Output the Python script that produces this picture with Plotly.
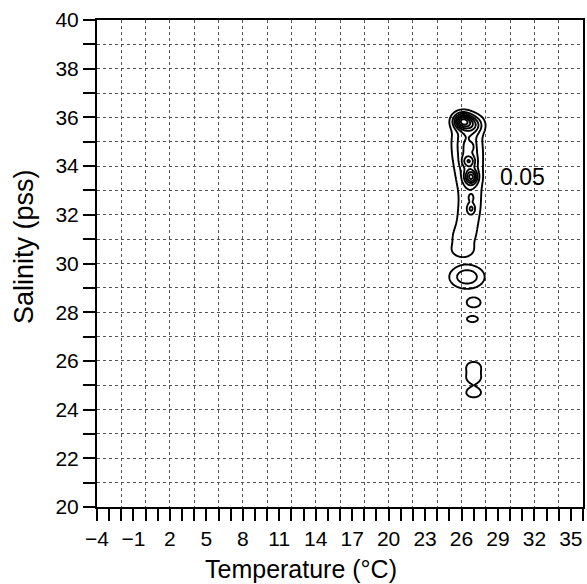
import numpy as np
import plotly.graph_objects as go

# ---- data: density components (T, S, amplitude, spreads) ----
comp_T   = [26.1, 27.0,
            26.4, 26.5, 26.6, 26.7, 26.7, 26.5, 26.1, 26.1,
            26.8, 26.6, 26.8, 26.8, 26.8,
            26.45, 27.0, 26.9, 27.0, 27.0, 27.0]
comp_S   = [35.85, 35.7,
            35.2, 34.5, 33.8, 33.1, 32.4, 31.7, 31.0, 30.5,
            34.8, 34.2, 33.55, 32.7, 32.25,
            29.45, 28.4, 27.72, 25.75, 25.3, 24.7]
comp_amp = [0.09, 0.04,
            0.028, 0.028, 0.024, 0.013, 0.012, 0.012, 0.013, 0.012,
            0.015, 0.03, 0.06, 0.012, 0.025,
            0.038, 0.02, 0.016, 0.017, 0.017, 0.018]
comp_sT  = [0.5, 0.55,
            0.75, 0.75, 0.7, 0.75, 0.8, 0.8, 0.9, 0.75,
            0.15, 0.35, 0.35, 0.15, 0.22,
            0.89, 0.48, 0.46, 0.55, 0.55, 0.55]
comp_sS  = [0.22, 0.25,
            0.45, 0.45, 0.45, 0.45, 0.45, 0.45, 0.4, 0.22,
            0.1, 0.15, 0.2, 0.1, 0.15,
            0.3, 0.17, 0.13, 0.2, 0.2, 0.18]

contour_start, contour_end, contour_step = 0.01, 0.13, 0.015
label_text = "0.05"
label_T, label_S = 29.0, 33.55

x_range = [-4, 36]
y_range = [20, 40]

# ---- density grid ----
T_grid = np.arange(23.0, 31.0, 0.04)
S_grid = np.arange(23.0, 37.5, 0.04)
TT, SS = np.meshgrid(T_grid, S_grid)
Z = np.zeros_like(TT)
for t, s, a, st, ss in zip(comp_T, comp_S, comp_amp, comp_sT, comp_sS):
    Z += a * np.exp(-((TT - t) ** 2) / (2 * st ** 2) - ((SS - s) ** 2) / (2 * ss ** 2))

W, H = 587, 584
ML, MR, MT, MB = 97, 4, 20, 77
pw, ph = W - ML - MR, H - MT - MB

fig = go.Figure()
fig.add_trace(go.Contour(
    x=T_grid, y=S_grid, z=Z,
    contours=dict(start=contour_start, end=contour_end, size=contour_step, coloring="lines"),
    colorscale=[[0, "black"], [1, "black"]],
    line=dict(width=1.9),
    showscale=False, hoverinfo="skip",
))
# helper trace so the overlay grid axis is drawn
fig.add_trace(go.Scatter(x=[], y=[], xaxis="x2", yaxis="y", showlegend=False))

grid_style = dict(gridcolor="#555555", gridwidth=1, griddash="dot")
font = "Liberation Sans, Arial, sans-serif"

fig.update_layout(
    width=W, height=H,
    margin=dict(l=ML, r=MR, t=MT, b=MB),
    paper_bgcolor="white", plot_bgcolor="white",
    font=dict(family=font, color="black", size=21),
    showlegend=False,
    xaxis=dict(
        range=x_range, tick0=-4, dtick=3, showgrid=False, zeroline=False,
        automargin=False,
        ticks="outside", ticklen=12, tickwidth=2, tickcolor="black",
        showline=True, linecolor="black", linewidth=2, mirror=True,
        tickfont=dict(size=21),
        minor=dict(tick0=-4, dtick=1, ticks="outside", ticklen=12, tickwidth=2,
                   tickcolor="black", showgrid=False),
    ),
    xaxis2=dict(
        range=x_range, overlaying="x", anchor="y", tick0=0, dtick=2,
        showgrid=True, showticklabels=False, ticks="", zeroline=False,
        showline=False, automargin=False, **grid_style,
    ),
    yaxis=dict(
        range=y_range, tick0=20, dtick=2, showgrid=True, zeroline=False,
        automargin=False,
        ticks="outside", ticklen=12, tickwidth=2, tickcolor="black",
        showline=True, linecolor="black", linewidth=2, mirror=True,
        tickfont=dict(size=21), **grid_style,
        minor=dict(tick0=20, dtick=1, ticks="outside", ticklen=12, tickwidth=2,
                   tickcolor="black", showgrid=True, **grid_style),
    ),
    annotations=[
        dict(text=label_text, x=label_T, y=label_S, xref="x", yref="y",
             xanchor="left", yanchor="middle", showarrow=False,
             font=dict(size=23, color="black")),
        dict(text="Temperature (°C)", xref="paper", yref="paper",
             x=(301 - ML) / pw, y=(H - 569 - MB) / ph,
             xanchor="center", yanchor="middle", showarrow=False, font=dict(size=25)),
        dict(text="Salinity (pss)", xref="paper", yref="paper",
             x=(24 - ML) / pw, y=(H - 247 - MB) / ph,
             xanchor="center", yanchor="middle", textangle=-90,
             showarrow=False, font=dict(size=27)),
    ],
)

fig.write_html("out.html", config={"displayModeBar": False},
               post_script="document.body.style.margin='0';")
